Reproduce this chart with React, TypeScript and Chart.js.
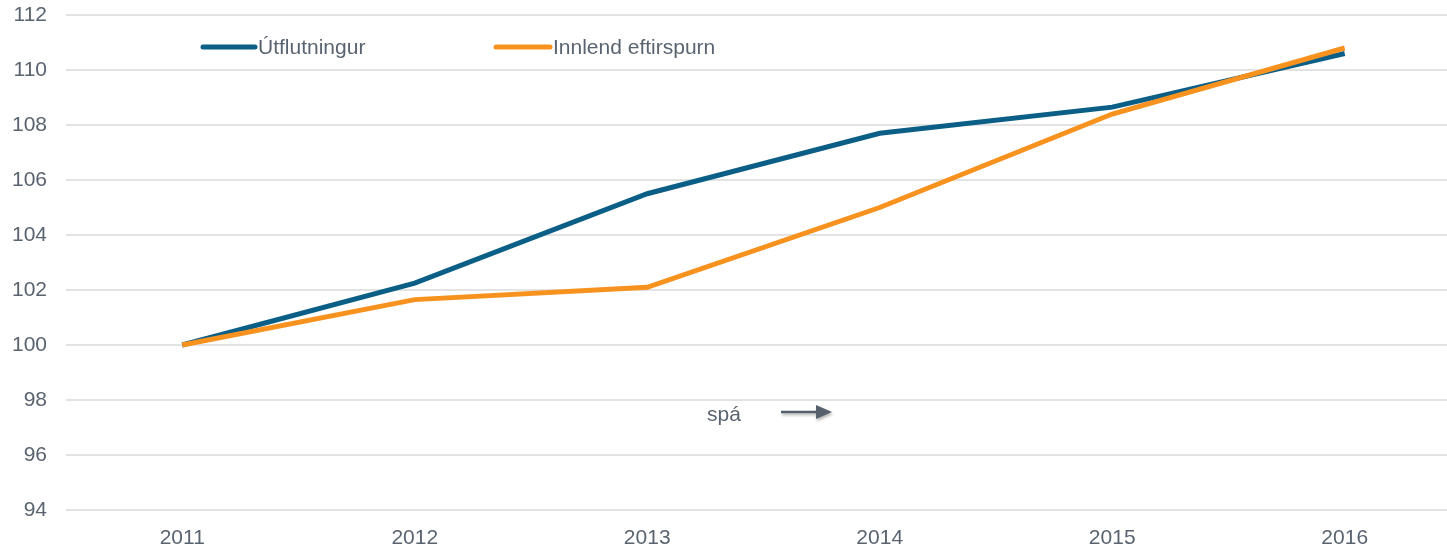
import React, { useEffect, useRef } from "react";
import { Chart, registerables } from "chart.js";

Chart.register(...registerables);

const years = [2011, 2012, 2013, 2014, 2015, 2016];
const utflutningur = [100, 102.25, 105.5, 107.7, 108.65, 110.6];
const innlend = [100, 101.65, 102.1, 105.0, 108.4, 110.8];
const yTicks = [94, 96, 98, 100, 102, 104, 106, 108, 110, 112];
const seriesLabels = ["Útflutningur", "Innlend eftirspurn"];
const annotationText = "spá";

const FONT = "'Liberation Sans', Arial, sans-serif";
const TEXT = "#5a6470";
const FS = 21;

const overlayPlugin = {
  id: "overlay",
  afterDraw(chart: any) {
    const ctx = chart.ctx;
    ctx.save();
    const legendPos = [
      { x1: 203, x2: 255, tx: 258 },
      { x1: 496, x2: 550, tx: 553 },
    ];
    const ly = 47;
    chart.data.datasets.forEach((ds: any, i: number) => {
      const p = legendPos[i];
      ctx.strokeStyle = ds.borderColor;
      ctx.lineWidth = 5;
      ctx.lineCap = "round";
      ctx.beginPath();
      ctx.moveTo(p.x1, ly);
      ctx.lineTo(p.x2, ly);
      ctx.stroke();
      ctx.fillStyle = TEXT;
      ctx.font = `${FS}px ${FONT}`;
      ctx.textBaseline = "middle";
      ctx.textAlign = "left";
      ctx.fillText(ds.label, p.tx, ly + 1);
    });
    ctx.fillStyle = TEXT;
    ctx.font = `${FS}px ${FONT}`;
    ctx.textAlign = "left";
    ctx.textBaseline = "middle";
    ctx.fillText(annotationText, 707, 415);
    ctx.shadowColor = "rgba(0,0,0,0.3)";
    ctx.shadowBlur = 3;
    ctx.shadowOffsetX = 1;
    ctx.shadowOffsetY = 2;
    ctx.strokeStyle = "#56606c";
    ctx.fillStyle = "#56606c";
    ctx.lineWidth = 2.5;
    ctx.lineCap = "butt";
    ctx.beginPath();
    ctx.moveTo(781, 412);
    ctx.lineTo(818, 412);
    ctx.stroke();
    ctx.beginPath();
    ctx.moveTo(816, 405);
    ctx.lineTo(832, 412);
    ctx.lineTo(816, 419);
    ctx.closePath();
    ctx.fill();
    ctx.restore();
  },
};

export default function App() {
  const ref = useRef<HTMLCanvasElement | null>(null);
  useEffect(() => {
    if (!ref.current) return;
    const chart = new Chart(ref.current, {
      type: "line",
      data: {
        datasets: [
          {
            label: seriesLabels[0],
            data: years.map((y, i) => ({ x: y, y: utflutningur[i] })),
            borderColor: "#0b5f86",
            backgroundColor: "#0b5f86",
            borderWidth: 5,
            pointRadius: 0,
            tension: 0,
            order: 2,
          },
          {
            label: seriesLabels[1],
            data: years.map((y, i) => ({ x: y, y: innlend[i] })),
            borderColor: "#f7921f",
            backgroundColor: "#f7921f",
            borderWidth: 5,
            pointRadius: 0,
            tension: 0,
            order: 1,
          },
        ],
      },
      options: {
        animation: false,
        responsive: false,
        devicePixelRatio: 1,
        layout: { padding: { top: 15, right: 0, left: 0, bottom: 0 } },
        plugins: {
          legend: { display: false },
          tooltip: { enabled: false },
        },
        scales: {
          x: {
            type: "linear",
            min: 2010.5,
            max: 2016.44,
            afterBuildTicks: (scale: any) => {
              scale.ticks = years.map((v) => ({ value: v }));
            },
            afterFit: (scale: any) => {
              scale.height = 36;
              scale.paddingLeft = 0;
              scale.paddingRight = 0;
            },
            grid: { display: false, drawTicks: false },
            border: { display: false },
            ticks: {
              padding: 16,
              color: TEXT,
              font: { family: FONT, size: FS },
              callback: (v: any) => String(v),
              maxRotation: 0,
              autoSkip: false,
            },
          },
          y: {
            min: 94,
            max: 112,
            afterBuildTicks: (scale: any) => {
              scale.ticks = yTicks.map((v) => ({ value: v }));
            },
            afterFit: (scale: any) => {
              scale.width = 66;
              scale.paddingTop = 0;
              scale.paddingBottom = 0;
            },
            grid: { color: "#e3e3e3", lineWidth: 2, drawTicks: false },
            border: { display: false },
            ticks: {
              padding: 19,
              color: TEXT,
              font: { family: FONT, size: FS },
            },
          },
        },
      },
      plugins: [overlayPlugin],
    } as any);
    return () => chart.destroy();
  }, []);
  return (
    <div style={{ position: "absolute", left: 0, top: 0, width: 1447, height: 546, background: "#fff" }}>
      <canvas ref={ref} width={1447} height={546} style={{ display: "block" }} />
    </div>
  );
}
